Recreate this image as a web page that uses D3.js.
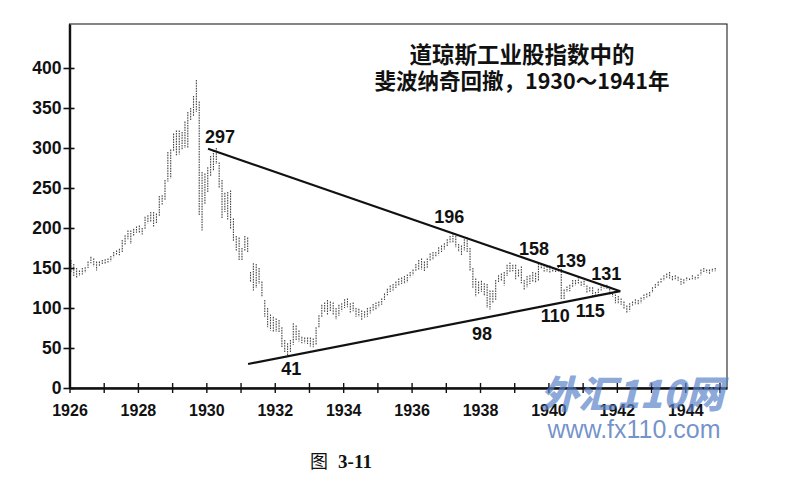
<!DOCTYPE html>
<html>
<head>
<meta charset="utf-8">
<script src="https://cdn.jsdelivr.net/npm/d3@7"></script>
<style>
body{margin:0;background:#fff;}
svg{display:block;}
</style>
</head>
<body>
<div id="chart"></div>
<script>
// monthly highs / lows, Jan 1926 onward
let startYear=1926;
let highs=[
160,155,150,147,150,151,158,164,162,158,158,160,
161,162,165,170,172,174,185,191,197,197,199,202,
203,200,214,216,220,220,218,240,241,260,295,298,
318,322,322,320,333,345,350,365,385,358,270,268,
276,290,297,300,282,260,244,245,247,212,190,188,
175,190,188,145,156,155,150,133,110,100,92,89,
87,85,76,60,56,60,81,78,72,64,63,63,
63,62,76,91,104,107,110,108,107,100,104,106,
111,112,106,107,100,99,97,96,100,101,105,107,
108,112,118,124,128,130,133,137,138,140,142,145,
148,155,160,162,158,162,168,170,170,176,178,181,
186,190,194,190,180,178,186,188,175,150,137,133,
134,131,130,122,122,135,141,143,145,154,157,154,
154,148,152,135,140,141,145,144,156,155,154,152,
153,151,150,152,149,123,127,129,135,135,139,133,
134,128,126,126,120,124,130,128,129,127,118,117,
115,112,108,103,106,108,111,110,113,117,118,120,
126,130,133,137,141,143,145,140,141,139,137,136,
138,137,141,139,142,148,150,148,148,149,150
];
let lows=[
144,140,137,140,142,144,150,156,152,147,152,155,
155,156,158,163,167,166,170,179,186,180,190,194,
194,192,198,206,208,202,206,215,228,235,258,262,
296,291,292,298,300,300,335,340,345,215,197,230,
245,265,272,280,250,212,220,210,198,183,172,160,
160,172,170,133,122,125,130,114,89,76,72,70,
70,70,50,44,41,45,54,60,58,56,56,55,
52,51,54,75,89,94,92,95,92,86,90,96,
100,101,93,96,89,89,85,88,89,93,97,98,
101,104,110,116,120,122,125,128,130,130,132,138,
141,146,147,148,146,150,158,160,164,166,170,173,
177,182,182,176,170,166,172,170,147,125,114,118,
120,116,100,98,106,110,132,133,128,140,145,146,
136,139,131,122,126,130,133,131,134,149,145,145,
144,145,145,145,111,111,120,121,126,128,130,127,
127,118,120,115,115,116,122,124,124,117,114,106,
105,104,99,93,96,103,104,104,106,110,113,114,
119,125,127,132,134,137,137,134,136,134,129,130,
134,134,136,135,137,141,145,144,142,145,146
];

let yTicks=[0,50,100,150,200,250,300,350,400];
let xTickYears=d3.range(1926,1946);
let xLabelYears=[1926,1928,1930,1932,1934,1936,1938,1940,1942,1944];

// fibonacci trend lines [year, value]
let upperLine=[[1930.05,299],[1942.1,121]];
let lowerLine=[[1931.22,30],[1942.1,121]];

// turning point labels
let pointLabels=[
 {t:"297",yr:1930.4,v:306},
 {t:"41",yr:1932.48,v:16},
 {t:"196",yr:1937.1,v:206},
 {t:"98",yr:1938.06,v:60},
 {t:"158",yr:1939.58,v:166},
 {t:"110",yr:1940.2,v:82},
 {t:"139",yr:1940.66,v:151},
 {t:"115",yr:1941.22,v:89},
 {t:"131",yr:1941.69,v:135}
];

let titleLines=["道琼斯工业股指数中的","斐波纳奇回撤，1930～1941年"];

function plotChart(){
	let W=786,H=490;
	let left=69.5,right=727,top=24,bottom=388;

	let svg=d3.select("#chart").append("svg")
		.attr("width",W).attr("height",H);

	let x=d3.scaleLinear().domain([1926,1945.22]).range([left,right]);
	let y=d3.scaleLinear().domain([0,455]).range([bottom,top]);

	// frame
	svg.append("rect")
		.attr("x",left).attr("y",top)
		.attr("width",right-left).attr("height",bottom-top)
		.attr("fill","none").attr("stroke","#222").attr("stroke-width",1.1);

	// price bars
	let bars=highs.map(function(h,i){return {yr:startYear+(i+0.5)/12,hi:h,lo:lows[i]}});
	svg.selectAll("line.bar")
		.data(bars)
		.enter()
		.append("line")
		.attr("class","bar")
		.attr("x1",function(d){return x(d.yr)})
		.attr("x2",function(d){return x(d.yr)})
		.attr("y1",function(d){return y(d.hi)})
		.attr("y2",function(d){return y(d.lo)})
		.attr("stroke","#444")
		.attr("stroke-width",1.1)
		.attr("stroke-dasharray","1.6,1");

	// y axis
	let yAx=svg.append("g").attr("transform","translate("+left+",0)")
		.call(d3.axisLeft(y).tickValues(yTicks).tickSizeInner(6).tickSizeOuter(0).tickPadding(2));
	yAx.select(".domain").attr("stroke","#111").attr("stroke-width",2.4);
	yAx.selectAll(".tick line").attr("x2",-6).attr("x1",5).attr("stroke","#111").attr("stroke-width",1.6);
	yAx.selectAll("text").attr("font-family","Liberation Sans, Arial, sans-serif")
		.attr("font-size",17.5).attr("font-weight","bold").attr("fill","#111");

	// x axis
	let xAx=svg.append("g").attr("transform","translate(0,"+bottom+")")
		.call(d3.axisBottom(x).tickValues(xTickYears).tickSizeOuter(0)
			.tickFormat(function(d){return xLabelYears.indexOf(d)>=0?d:""}).tickPadding(11));
	xAx.select(".domain").attr("stroke","#111").attr("stroke-width",2.4);
	xAx.selectAll(".tick line").attr("y1",-5).attr("y2",5).attr("stroke","#111").attr("stroke-width",1.4);
	xAx.selectAll("text").attr("font-family","Liberation Sans, Arial, sans-serif")
		.attr("font-size",16).attr("font-weight","bold").attr("fill","#111");

	// trend lines
	let ln=d3.line().x(function(d){return x(d[0])}).y(function(d){return y(d[1])});
	[upperLine,lowerLine].forEach(function(p){
		svg.append("path").attr("d",ln(p))
			.attr("fill","none").attr("stroke","#111").attr("stroke-width",2.2);
	});

	// point labels
	svg.selectAll("text.pl")
		.data(pointLabels)
		.enter()
		.append("text")
		.attr("class","pl")
		.attr("x",function(d){return x(d.yr)})
		.attr("y",function(d){return y(d.v)})
		.attr("text-anchor","middle")
		.attr("font-family","Liberation Sans, Arial, sans-serif")
		.attr("font-size",18).attr("font-weight","bold").attr("fill","#111")
		.text(function(d){return d.t});

	// title
	svg.selectAll("text.title")
		.data(titleLines)
		.enter()
		.append("text")
		.attr("class","title")
		.attr("x",522)
		.attr("y",function(d,i){return 63+i*26})
		.attr("text-anchor","middle")
		.attr("font-family","Noto Sans CJK SC, sans-serif")
		.attr("font-size",function(d,i){return i==0?22.5:21.5})
		.attr("font-weight","bold").attr("fill","#111")
		.text(function(d){return d});

	// watermark
	svg.append("text")
		.attr("x",632).attr("y",408)
		.attr("text-anchor","middle")
		.attr("font-family","Noto Sans CJK SC, sans-serif")
		.attr("font-size",38).attr("font-weight","900").attr("font-style","italic")
		.attr("fill","#5a82c8").attr("fill-opacity",0.7)
		.text("外汇110网");
	svg.append("text")
		.attr("x",634).attr("y",438)
		.attr("text-anchor","middle")
		.attr("font-family","Liberation Sans, Arial, sans-serif")
		.attr("font-size",25)
		.attr("fill","#5b80c2").attr("fill-opacity",0.85)
		.text("www.fx110.com");

	// caption
	let cap=svg.append("text")
		.attr("x",341).attr("y",468)
		.attr("text-anchor","middle")
		.attr("fill","#111");
	cap.append("tspan").attr("font-family","Noto Sans CJK SC, serif").attr("font-size",18).text("图");
	cap.append("tspan").attr("dx",10).attr("font-family","Liberation Serif, DejaVu Serif, serif")
		.attr("font-size",19).attr("font-weight","bold").text("3-11");
}

plotChart();
</script>
</body>
</html>
